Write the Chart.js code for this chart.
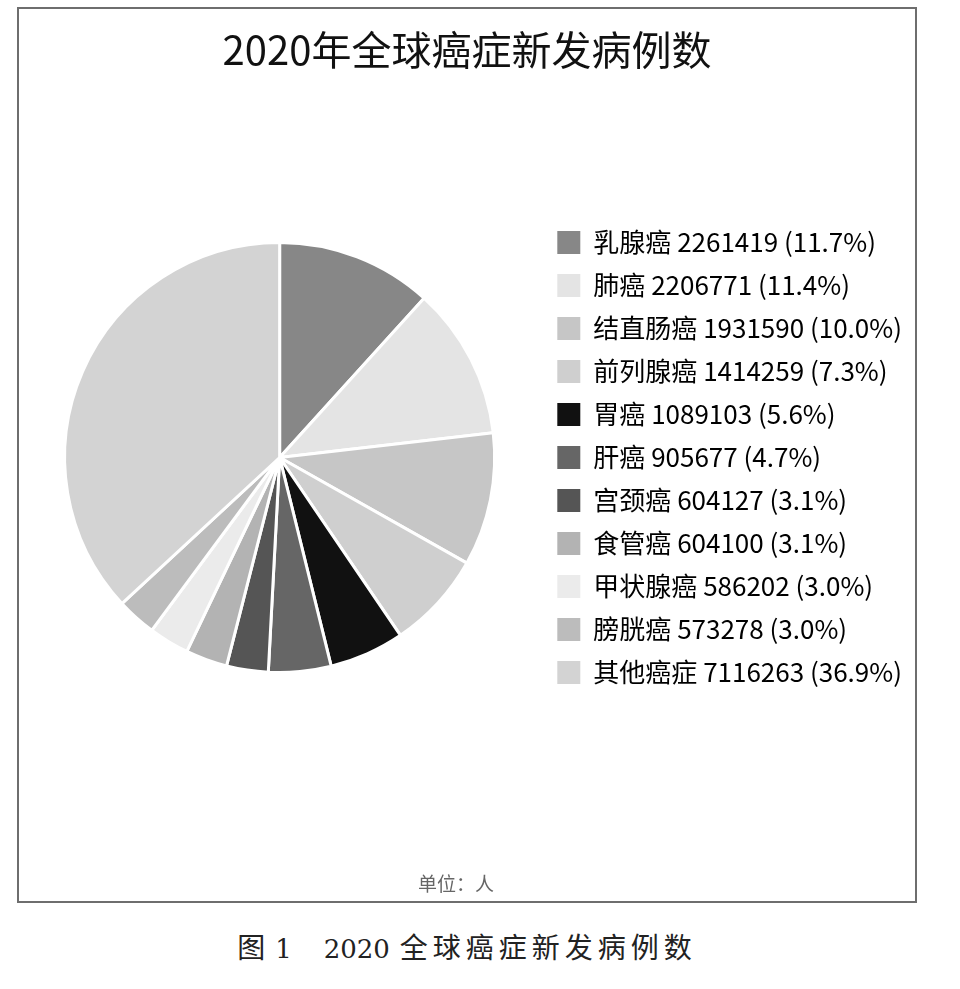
<!DOCTYPE html>
<html>
<head>
<meta charset="utf-8">
<title>2020年全球癌症新发病例数</title>
<script src="https://cdn.jsdelivr.net/npm/chart.js@4/dist/chart.umd.min.js"></script>
<style>
    body { margin: 0; background: #fff; width: 960px; height: 989px; position: relative; overflow: hidden; }
    .frame {
        position: absolute; left: 17px; top: 7px;
        width: 900px; height: 896px;
        border: 2px solid #6e6e6e; box-sizing: border-box;
    }
    .frame canvas { display: block; }
    .chart-title {
        position: absolute; left: 0; width: 934px; top: 24px;
        text-align: center;
        font-family: "Noto Sans CJK SC", sans-serif;
        font-size: 40px; line-height: 48px; color: #111;
    }
    .unit {
        position: absolute; left: 356px; width: 200px; top: 870px;
        text-align: center;
        font-family: "Noto Sans CJK SC", sans-serif;
        font-size: 19px; line-height: 26px; color: #666;
    }
    .caption {
        position: absolute; left: 0; width: 934px; top: 926px;
        text-align: center; white-space: nowrap;
        font-family: "Noto Sans CJK SC", sans-serif;
        font-size: 28px; line-height: 40px; color: #222;
    }
    .caption .num { margin-left: 10px; font-family: "DejaVu Serif", serif; font-size: 26px; }
    .caption .year { margin-left: 32px; font-family: "DejaVu Serif", serif; font-size: 26px; }
    .caption .words { margin-left: 10px; letter-spacing: 5px; }
</style>
</head>
<body>
<div class="frame"><canvas id="cancerChart" width="896" height="892"></canvas></div>
<div class="chart-title">2020年全球癌症新发病例数</div>
<div class="unit">单位：人</div>
<div class="caption"><span>图</span><span class="num">1</span><span class="year">2020</span><span class="words">全球癌症新发病例数</span></div>
<script>
// --- Data ---
const categories = ['乳腺癌', '肺癌', '结直肠癌', '前列腺癌', '胃癌', '肝癌', '宫颈癌', '食管癌', '甲状腺癌', '膀胱癌', '其他癌症'];
const cases = [2261419, 2206771, 1931590, 1414259, 1089103, 905677, 604127, 604100, 586202, 573278, 7116263];
const sliceColors = ['#878787', '#e4e4e4', '#c6c6c6', '#cfcfcf', '#111111', '#666666', '#555555', '#b3b3b3', '#ebebeb', '#bcbcbc', '#d3d3d3'];

const total = cases.reduce((a, b) => a + b, 0);

// --- Chart ---
const ctx = document.getElementById('cancerChart');
new Chart(ctx, {
    type: 'pie',
    data: {
        labels: categories,
        datasets: [{
            data: cases,
            backgroundColor: sliceColors,
            borderColor: '#ffffff',
            borderWidth: 3,
            radius: 215
        }]
    },
    options: {
        responsive: false,
        animation: false,
        layout: { padding: { left: 0, right: 3, top: 129, bottom: 124 } },
        plugins: {
            legend: {
                position: 'right',
                fullSize: false,
                labels: {
                    boxWidth: 23,
                    boxHeight: 23,
                    padding: 17,
                    color: '#222',
                    font: { family: '"Noto Sans CJK SC", sans-serif', size: 26 },
                    generateLabels: (chart) => {
                        return categories.map((name, i) => ({
                            text: name + ' ' + cases[i] + ' (' + (cases[i] / total * 100).toFixed(1) + '%)',
                            fillStyle: sliceColors[i],
                            strokeStyle: sliceColors[i],
                            lineWidth: 0,
                            index: i
                        }));
                    }
                }
            },
            tooltip: { enabled: false }
        }
    }
});
</script>
</body>
</html>
